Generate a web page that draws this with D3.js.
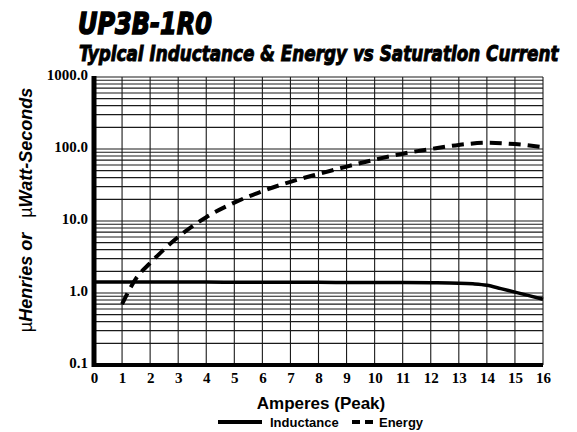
<!DOCTYPE html>
<html><head><meta charset="utf-8">
<script src="https://cdn.jsdelivr.net/npm/d3@7"></script>
<style>
body{margin:0;background:#fff;}
svg{display:block;}
</style></head>
<body>
<svg id="c" width="577" height="432"></svg>
<script>
const title = "UP3B-1R0";
const subtitle = "Typical Inductance & Energy vs Saturation Current";
const xTicks = [0,1,2,3,4,5,6,7,8,9,10,11,12,13,14,15,16];
const yTicks = [0.1,1,10,100,1000];
const yTickLabels = ["0.1","1.0","10.0","100.0","1000.0"];
const inductanceAmps = [0,1,2,3,4,5,6,7,8,9,10,11,12,13,13.5,14,14.5,15,15.5,16];
const inductanceVals = [1.42,1.42,1.42,1.42,1.42,1.41,1.41,1.41,1.41,1.40,1.40,1.40,1.39,1.37,1.34,1.28,1.15,1.03,0.92,0.82];
const energyAmps = [1,1.5,2,3,4,5,6,7,8,9,10,11,12,13,14,15,16];
const energyVals = [0.70,1.6,2.6,6.0,11.3,18,26,35,45,57,71,86,100,114,122,117,106];

const svg = d3.select("#c");
const x = d3.scaleLinear().domain([0,16]).range([94,543]);
const y = d3.scaleLog().domain([0.1,1000]).range([365,77]);

const gridVals = [];
for (let e=-1;e<3;e++) for (let m=1;m<10;m++) gridVals.push(m*Math.pow(10,e));
gridVals.push(1000);

const g = svg.append("g");
g.selectAll("line.h").data(gridVals).join("line")
  .attr("x1",x(0)).attr("x2",x(16))
  .attr("y1",d=>y(d)).attr("y2",d=>y(d))
  .attr("stroke","#1a1a1a").attr("stroke-width",1.1);
g.selectAll("line.v").data(xTicks.slice(1)).join("line")
  .attr("x1",d=>x(d)).attr("x2",d=>x(d))
  .attr("y1",y(1000)).attr("y2",y(0.1))
  .attr("stroke","#1a1a1a").attr("stroke-width",1.1);

g.append("line").attr("x1",x(0)).attr("x2",x(0)).attr("y1",y(1000)-1).attr("y2",y(0.1)+2)
  .attr("stroke","#000").attr("stroke-width",5);
g.append("line").attr("x1",x(0)-2).attr("x2",x(16)).attr("y1",y(0.1)).attr("y2",y(0.1))
  .attr("stroke","#000").attr("stroke-width",4);

const serif = "'Liberation Serif','Times New Roman',serif";
const xa = svg.append("g").attr("transform",`translate(0,${y(0.1)+3})`)
  .call(d3.axisBottom(x).tickValues(xTicks).tickSize(0).tickPadding(4).tickFormat(d3.format("d")));
xa.select(".domain").remove();
xa.attr("font-family",serif).attr("font-size",15);
xa.selectAll("text").attr("font-weight","bold").attr("fill","#000");

const ya = svg.append("g").attr("transform",`translate(${x(0)-5},-2)`)
  .call(d3.axisLeft(y).tickValues(yTicks).tickSize(0).tickPadding(1).tickFormat((d,i)=>yTickLabels[i]));
ya.select(".domain").remove();
ya.attr("font-family",serif).attr("font-size",15);
ya.selectAll("text").attr("font-weight","bold").attr("fill","#000");

const lineI = d3.line().x((d,i)=>x(inductanceAmps[i])).y(d=>y(d)).curve(d3.curveMonotoneX);
const lineE = d3.line().x((d,i)=>x(energyAmps[i])).y(d=>y(d)).curve(d3.curveMonotoneX);
svg.append("path").attr("d",lineI(inductanceVals)).attr("fill","none")
  .attr("stroke","#000").attr("stroke-width",3.5);
svg.append("path").attr("d",lineE(energyVals)).attr("fill","none")
  .attr("stroke","#000").attr("stroke-width",4).attr("stroke-dasharray","12,7");

const cond = "'DejaVu Sans',sans-serif";
function squeezed(txt, tx, ty, size, width, sw){
  const t = svg.append("text").attr("x",0).attr("y",0).text(txt)
    .attr("font-family",cond).attr("font-weight","bold").attr("font-style","italic")
    .attr("font-size",size).attr("stroke","#000").attr("stroke-width",sw);
  const len = t.node().getComputedTextLength();
  t.attr("transform",`translate(${tx},${ty}) scale(${width/len},1)`);
}
squeezed(title, 78, 34, 31, 134, 1.6);
squeezed(subtitle, 79, 61, 21, 480, 1.0);

const yt = svg.append("text").attr("transform","translate(32,210) rotate(-90)")
  .attr("text-anchor","middle").attr("font-family","'Liberation Sans',Arial,sans-serif")
  .attr("font-size",18).attr("fill","#000");
yt.append("tspan").text("\u00B5");
yt.append("tspan").text("Henries or\u00A0\u00A0\u00A0").attr("font-weight","bold").attr("font-style","italic");
yt.append("tspan").text("\u00B5");
yt.append("tspan").text("Watt-Seconds").attr("font-weight","bold").attr("font-style","italic");

svg.append("text").attr("x",321).attr("y",409).attr("text-anchor","middle")
  .attr("font-family","'Liberation Sans',Arial,sans-serif").attr("font-weight","bold")
  .attr("font-size",17).text("Amperes (Peak)");

const lg = svg.append("g");
lg.append("line").attr("x1",218).attr("x2",262).attr("y1",422).attr("y2",422)
  .attr("stroke","#000").attr("stroke-width",4);
lg.append("text").attr("x",270).attr("y",427).text("Inductance")
  .attr("font-family","'Liberation Sans',Arial,sans-serif").attr("font-weight","bold").attr("font-size",13);
lg.append("line").attr("x1",352).attr("x2",373).attr("y1",422).attr("y2",422)
  .attr("stroke","#000").attr("stroke-width",4).attr("stroke-dasharray","8,5");
lg.append("text").attr("x",379).attr("y",427).text("Energy")
  .attr("font-family","'Liberation Sans',Arial,sans-serif").attr("font-weight","bold").attr("font-size",13);
</script>
</body></html>
